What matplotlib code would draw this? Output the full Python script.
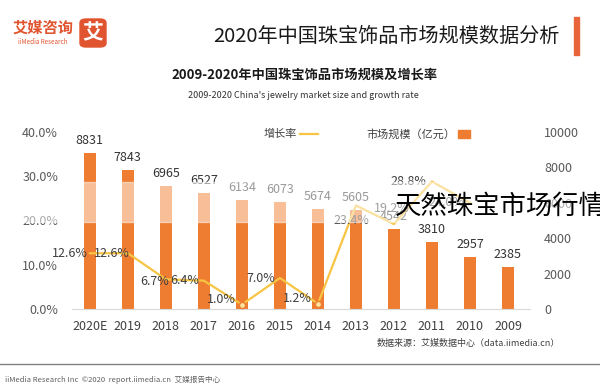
import numpy as np
import matplotlib
matplotlib.use('Agg')
import matplotlib.pyplot as plt
from matplotlib.patches import Rectangle, FancyBboxPatch
from matplotlib.lines import Line2D

plt.rcParams['font.family'] = ['Noto Sans CJK SC', 'DejaVu Sans']

# data (2009 -> 2020E)
years = ['2009', '2010', '2011', '2012', '2013', '2014', '2015', '2016', '2017', '2018', '2019', '2020E']
market_size = [2385, 2957, 3810, 4542, 5605, 5674, 6073, 6134, 6527, 6965, 7843, 8831]
growth = [None, 24.0, 28.8, 19.2, 23.4, 1.2, 7.0, 1.0, 6.4, 6.7, 12.6, 12.6]
pct_ticks = [0, 10, 20, 30, 40]
size_ticks = [0, 2000, 4000, 6000, 8000, 10000]

# label offsets for growth labels (pixels), picture is mirrored
lab_off = [None, (-6, 0), (-6, 0), (16, 16), (13, -15), (-6, 5), (-5, 0),
           (-6, 5), (-5, 0), (3, -2), (2, 0), (-2, 0)]

W, H = 600, 390
fig = plt.figure(figsize=(6, 3.9), dpi=100)


def fx(x):
    return x / W


def fy(y):
    return 1 - y / H


orange = '#EF7D31'
gold = '#F7C443'
grey = '#595959'

ax = fig.add_axes([fx(72), fy(309), fx(530) - fx(72), fy(132) - fy(309)])
ax2 = ax.twinx()

x = np.arange(len(years))
ax.bar(x, market_size, width=0.32, color=orange, zorder=2)
for xi, v in zip(x, market_size):
    ax.annotate(str(v), (xi, v), xytext=(0, 6), textcoords='offset pixels',
                ha='center', va='bottom', fontsize=9, color='#333333')
ax.set_ylim(0, 10000)
ax.set_xlim(11.47, -0.58)
ax.set_xticks(x)
ax.set_xticklabels(years, fontsize=9, color='#404040')
ax.tick_params(axis='x', length=0, pad=8)
ax.yaxis.tick_right()
ax.yaxis.set_label_position('right')
ax.set_yticks(size_ticks)
ax.set_yticklabels([str(t) for t in size_ticks], fontsize=9, color=grey)
ax.tick_params(axis='y', length=0, pad=10)
for s in ['top', 'left', 'right']:
    ax.spines[s].set_visible(False)
ax.spines['bottom'].set_color('#D9D9D9')

gx = [xi for xi, g in zip(x, growth) if g is not None]
gy = [g for g in growth if g is not None]
ax2.plot(gx, gy, color=gold, lw=1.6, zorder=3)
ax2.plot([7, 5], [growth[7], growth[5]], 'o', ms=4.5, mfc='#FBE3A0', mec=orange, mew=1.1, zorder=4)
for xi, g, off in zip(x, growth, lab_off):
    if g is None:
        continue
    ax2.annotate(f'{g}%', (xi, g), xytext=off, textcoords='offset pixels',
                 ha='right', va='center', fontsize=9, color='#404040')
ax2.set_ylim(0, 40)
ax2.yaxis.tick_left()
ax2.set_yticks(pct_ticks)
ax2.set_yticklabels([f'{t:.1f}%' for t in pct_ticks], fontsize=9, color=grey)
ax2.tick_params(axis='y', length=0, pad=10)
for s in ['top', 'left', 'right', 'bottom']:
    ax2.spines[s].set_visible(False)

# legend (mirrored order)
fig.patches.append(Rectangle((fx(458), fy(138)), fx(12), fy(130) - fy(138), color=orange,
                             transform=fig.transFigure))
fig.text(fx(455), fy(134), '市场规模（亿元）', ha='right', va='center', fontsize=8, color='#404040')
fig.lines.append(Line2D([fx(300), fx(318)], [fy(134), fy(134)], color=gold, lw=1.6,
                        transform=fig.transFigure))
fig.text(fx(297), fy(134), '增长率', ha='right', va='center', fontsize=8, color='#404040')

# header
fig.text(fx(560), fy(36), '2020年中国珠宝饰品市场规模数据分析', ha='right', va='center',
         fontsize=14.5, fontweight='medium', color='#1a1a1a')
fig.patches.append(Rectangle((fx(574), fy(55)), fx(5), fy(17) - fy(55), color='#E8643A',
                             transform=fig.transFigure))
fig.patches.append(FancyBboxPatch((fx(80), fy(47)), fx(26), fy(19) - fy(47),
                                  boxstyle='round,pad=0,rounding_size=0.01', color='#E0552F',
                                  transform=fig.transFigure))
fig.text(fx(93), fy(33), '艾', ha='center', va='center', fontsize=15, color='white', fontweight='bold')
fig.text(fx(43), fy(28), '艾媒咨询', ha='center', va='center', fontsize=11, color='#E0552F',
         fontweight='bold')
fig.text(fx(43), fy(42), 'iiMedia Research', ha='center', va='center', fontsize=4.5, color='#E0552F')

fig.text(fx(305), fy(75), '2009-2020年中国珠宝饰品市场规模及增长率', ha='center', va='center',
         fontsize=9.5, fontweight='bold', color='#1a1a1a')
fig.text(fx(303), fy(96), "2009-2020 China's jewelry market size and growth rate", ha='center',
         va='center', fontsize=6.5, color='#333333')

# source and footer
fig.text(fx(560), fy(343), '数据来源：艾媒数据中心（data.iimedia.cn）', ha='right', va='center',
         fontsize=6.5, color='#404040')
fig.lines.append(Line2D([0, 1], [fy(364), fy(364)], color='#808080', lw=1, transform=fig.transFigure))
fig.text(fx(5), fy(380), 'iiMedia Research Inc  ©2020  report.iimedia.cn  艾媒报告中心', ha='left',
         va='center', fontsize=5.5, color='#606060')

# pale band across the picture
band = Rectangle((0, fy(222)), 1, fy(182) - fy(222), color='white', alpha=0.5,
                 transform=fig.transFigure, zorder=5)
fig.patches.append(band)

fig.text(fx(395), fy(206), '天然珠宝市场行情', ha='left', va='center', fontsize=19,
         fontweight='light', color='black', zorder=10)

fig.savefig('out.png', dpi=100)
